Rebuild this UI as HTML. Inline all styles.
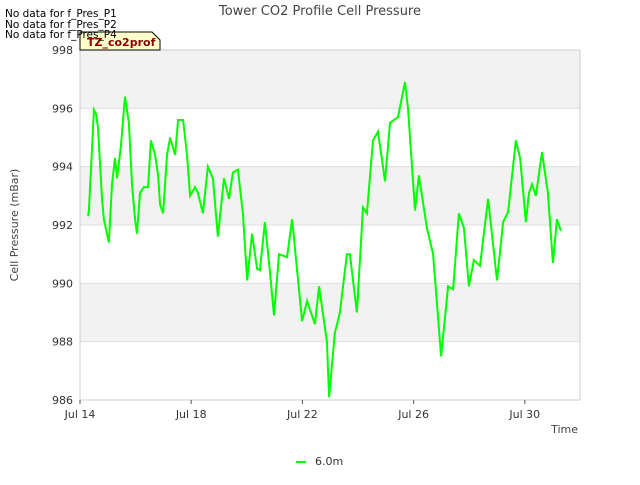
<!DOCTYPE html>
<html><head><meta charset="utf-8"><style>
body{margin:0;background:#fff;font-family:"Liberation Sans","DejaVu Sans",sans-serif}
svg text{font-family:"DejaVu Sans","Liberation Sans",sans-serif}
</style></head><body>
<svg width="640" height="480" viewBox="0 0 640 480">
<g id="bands"></g>
<g id="grid"></g>
<rect x="80" y="50" width="500" height="350" fill="none" stroke="#ccc"/>
<g id="yt"></g><g id="xt"></g>
<path id="line" fill="none" stroke="#00ff00" stroke-width="2"/>
<text x="320" y="15" text-anchor="middle" font-size="13" fill="#444">Tower CO2 Profile Cell Pressure</text>
<text transform="translate(18,225) rotate(-90)" text-anchor="middle" font-size="11" fill="#444">Cell Pressure (mBar)</text>
<text x="578" y="433" text-anchor="end" font-size="11" fill="#444">Time</text>
<g><path d="M80,50 L80,32 L152,32 L160,40 L160,50 Z" fill="#ffffcc" stroke="#000"/>
<text x="87" y="46" font-size="11" font-weight="bold" fill="#8b0000">TZ_co2prof</text></g>
<text x="5" y="17" font-size="10.5" fill="#000">No data for f_Pres_P1</text>
<text x="5" y="28" font-size="10.5" fill="#000">No data for f_Pres_P2</text>
<text x="5" y="38" font-size="10.5" fill="#000">No data for f_Pres_P4</text>
<line x1="296" y1="462" x2="306" y2="462" stroke="#00ff00" stroke-width="2"/>
<text x="315" y="465" font-size="11" fill="#333">6.0m</text>
</svg>
<script>
const days=[0.29,0.32,0.43,0.50,0.58,0.65,0.79,0.86,1.04,1.15,1.26,1.33,1.47,1.62,1.76,1.87,1.98,2.05,2.16,2.30,2.45,2.55,2.70,2.81,2.88,2.99,3.13,3.24,3.42,3.53,3.71,3.85,3.96,4.14,4.24,4.42,4.60,4.78,4.96,5.18,5.36,5.50,5.68,5.86,6.01,6.19,6.37,6.47,6.65,6.83,6.98,7.16,7.45,7.63,7.99,8.17,8.45,8.60,8.88,8.96,9.17,9.35,9.60,9.71,9.96,10.18,10.32,10.54,10.72,10.97,11.15,11.44,11.69,11.80,12.05,12.19,12.48,12.70,12.99,13.24,13.42,13.63,13.81,13.99,14.17,14.39,14.68,15.00,15.22,15.40,15.68,15.83,16.04,16.15,16.26,16.40,16.62,16.83,17.01,17.16,17.30];
const pressure=[992.3,992.5,994.6,995.95,995.8,995.3,992.9,992.2,991.4,993.4,994.3,993.6,994.7,996.4,995.5,993.4,992.2,991.7,993.1,993.3,993.3,994.9,994.4,993.7,992.7,992.4,994.4,995.0,994.4,995.6,995.6,994.4,993.0,993.3,993.1,992.4,994.0,993.6,991.6,993.6,992.9,993.8,993.9,992.4,990.1,991.7,990.5,990.45,992.1,990.4,988.9,991.0,990.9,992.2,988.7,989.4,988.6,989.9,988.0,986.1,988.3,989.0,991.0,991.0,989.0,992.6,992.4,994.9,995.2,993.5,995.5,995.7,996.9,996.0,992.5,993.7,991.9,991.0,987.5,989.9,989.8,992.4,991.9,989.9,990.8,990.6,992.9,990.1,992.1,992.45,994.9,994.3,992.1,993.1,993.4,993.0,994.5,993.1,990.7,992.2,991.8];
const yTicks=[986,988,990,992,994,996,998];
const xTickLabels=["Jul 14","Jul 18","Jul 22","Jul 26","Jul 30"];
const xTickDays=[0,4,8,12,16];
const NS="http://www.w3.org/2000/svg";
const xs=d=>80+d*27.8, ys=v=>400-(v-986)*350/12;
const bands=document.getElementById('bands'),grid=document.getElementById('grid'),yt=document.getElementById('yt'),xt=document.getElementById('xt');
for(let i=0;i<yTicks.length-1;i+=2){
 const r=document.createElementNS(NS,'rect');
 r.setAttribute('x',80);r.setAttribute('width',500);
 r.setAttribute('y',ys(yTicks[i+1]+2));r.setAttribute('height',ys(yTicks[i+1])-ys(yTicks[i+1]+2));
 r.setAttribute('fill','#f2f2f2');
 
 
 if(yTicks[i+1]+2<=998)bands.appendChild(r);
}
yTicks.forEach(v=>{
 const l=document.createElementNS(NS,'line');
 l.setAttribute('x1',80);l.setAttribute('x2',580);l.setAttribute('y1',ys(v));l.setAttribute('y2',ys(v));l.setAttribute('stroke','#ddd');
 
 
 grid.appendChild(l);
 const t=document.createElementNS(NS,'text');
 t.setAttribute('x',73);t.setAttribute('y',ys(v)+4);t.setAttribute('text-anchor','end');t.setAttribute('font-size','11');t.setAttribute('fill','#333');
 t.textContent=v;
 
 
 yt.appendChild(t);
});
xTickDays.forEach((d,i)=>{
 const l=document.createElementNS(NS,'line');
 l.setAttribute('x1',xs(d));l.setAttribute('x2',xs(d));l.setAttribute('y1',400);l.setAttribute('y2',404);l.setAttribute('stroke','#555');
 
 
 xt.appendChild(l);
 const t=document.createElementNS(NS,'text');
 t.setAttribute('x',xs(d));t.setAttribute('y',418);t.setAttribute('text-anchor','middle');t.setAttribute('font-size','11');t.setAttribute('fill','#333');
 t.textContent=xTickLabels[i];
 
 
 xt.appendChild(t);
});
document.getElementById('line').setAttribute('d',days.map((d,i)=>(i?'L':'M')+xs(d).toFixed(1)+','+ys(pressure[i]).toFixed(1)).join(' '));
</script>
</body></html>
